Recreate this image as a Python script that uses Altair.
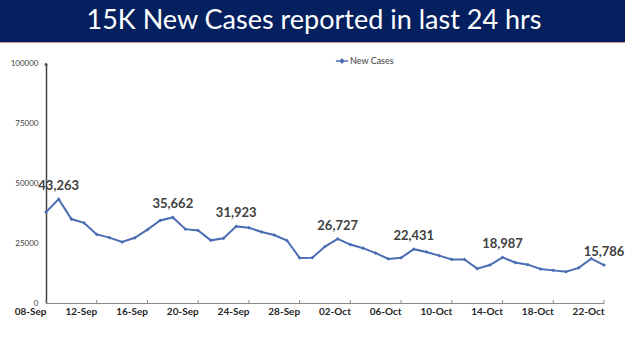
import altair as alt
import pandas as pd

# ---- data ----
dates = [d.strftime("%d-%b") for d in pd.date_range("2021-09-08", "2021-10-22")]
cases = [37875, 43263, 34973, 33376, 28591, 27254, 25404, 27176, 30570, 34403,
         35662, 30773, 30256, 26115, 26964, 31923, 31382, 29616, 28326, 26041,
         18795, 18870, 23529, 26727, 24354, 22842, 20799, 18346, 18833, 22431,
         21257, 19740, 18166, 18132, 14313, 15823, 18987, 16862, 15981, 14146,
         13596, 13058, 14623, 18454, 15786]
labeled_dates = ["09-Sep", "18-Sep", "23-Sep", "01-Oct", "07-Oct", "14-Oct", "22-Oct"]
tick_dates = dates[::4]
y_ticks = [0, 25000, 50000, 75000, 100000]
series_name = "New Cases"
title_text = "15K New Cases reported in last 24 hrs"

BLUE = "#4a6db3"
NAVY = "#05205f"
W, H = 558, 240
PAD_L, PAD_T, PAD_R, PAD_B = 46, 63, 21, 48

df = pd.DataFrame({"date": dates, "cases": cases, "series": series_name})
df["label"] = [f"{v:,}" if d in labeled_dates else "" for d, v in zip(dates, cases)]
ticks_df = pd.DataFrame({"date": tick_dates})
title_df = pd.DataFrame({"t": [title_text]})

xscale = alt.Scale(type="point", padding=0, domain=dates)
yscale = alt.Scale(domain=[0, 100000], nice=False)

x = alt.X("date:N", sort=None, scale=xscale,
          axis=alt.Axis(values=tick_dates, title=None, labelAngle=0, tickSize=0,
                        labelFont="Lato", labelFontWeight="bold", labelFontSize=10,
                        labelColor="#262626", labelPadding=8, domainColor="#8a8a8a",
                        domainWidth=1.2, grid=False))
y = alt.Y("cases:Q", scale=yscale,
          axis=alt.Axis(values=y_ticks, format="d", title=None, grid=False, tickSize=0,
                        labelFont="Lato", labelFontSize=8, labelColor="#404040",
                        labelPadding=8, domainColor="#404040", domainWidth=1.5))

line = alt.Chart(df).mark_line(
    strokeWidth=2,
    point=alt.OverlayMarkDef(filled=True, size=14, shape="diamond", color=BLUE),
).encode(
    x=x, y=y,
    color=alt.Color("series:N", scale=alt.Scale(domain=[series_name], range=[BLUE]),
                    legend=alt.Legend(orient="none", legendX=289, legendY=-9, title=None,
                                      symbolType="M-1,0H1M0,-0.3L0.3,0L0,0.3L-0.3,0Z",
                                      symbolSize=150, symbolStrokeWidth=1.5,
                                      symbolFillColor=BLUE,
                                      labelFont="Lato", labelFontSize=9,
                                      labelColor="#404040", labelOffset=1)),
)

labels = alt.Chart(df).transform_filter("datum.label != ''").mark_text(
    font="Lato", fontWeight="bold", fontSize=13, color="#404040",
    baseline="middle", dy=-13,
).encode(x=alt.X("date:N", sort=None, scale=xscale), y=alt.Y("cases:Q", scale=yscale),
         text="label:N")

tick_marks = alt.Chart(ticks_df).mark_rule(color="#8a8a8a", strokeWidth=1).encode(
    x=alt.X("date:N", sort=None, scale=xscale), y=alt.value(H - 3), y2=alt.value(H))

arrow = alt.Chart(title_df).mark_point(shape="triangle-up", filled=True, size=14,
                                       color="#404040", opacity=1).encode(
    x=alt.value(0), y=alt.value(1))

banner = alt.Chart(title_df).mark_rect(color=NAVY).encode(
    x=alt.value(-PAD_L), x2=alt.value(W + PAD_R), y=alt.value(-PAD_T), y2=alt.value(-PAD_T + 42))
banner_line = alt.Chart(title_df).mark_rect(color="#d9998a").encode(
    x=alt.value(-PAD_L), x2=alt.value(W + PAD_R), y=alt.value(-PAD_T + 42), y2=alt.value(-PAD_T + 43))
banner_text = alt.Chart(title_df).mark_text(
    font="Lato", fontSize=27, color="white", align="center", baseline="alphabetic",
).encode(x=alt.value(314 - PAD_L), y=alt.value(29 - PAD_T), text="t:N")

chart = alt.layer(banner, banner_line, banner_text, tick_marks, line, labels, arrow).properties(
    width=W, height=H,
    padding={"left": PAD_L, "top": PAD_T, "right": PAD_R, "bottom": PAD_B},
    autosize=alt.AutoSizeParams(type="none"),
).configure(background="white", view=alt.ViewConfig(stroke=None))

chart.save("out.html", embed_options={"renderer": "svg", "actions": False})
